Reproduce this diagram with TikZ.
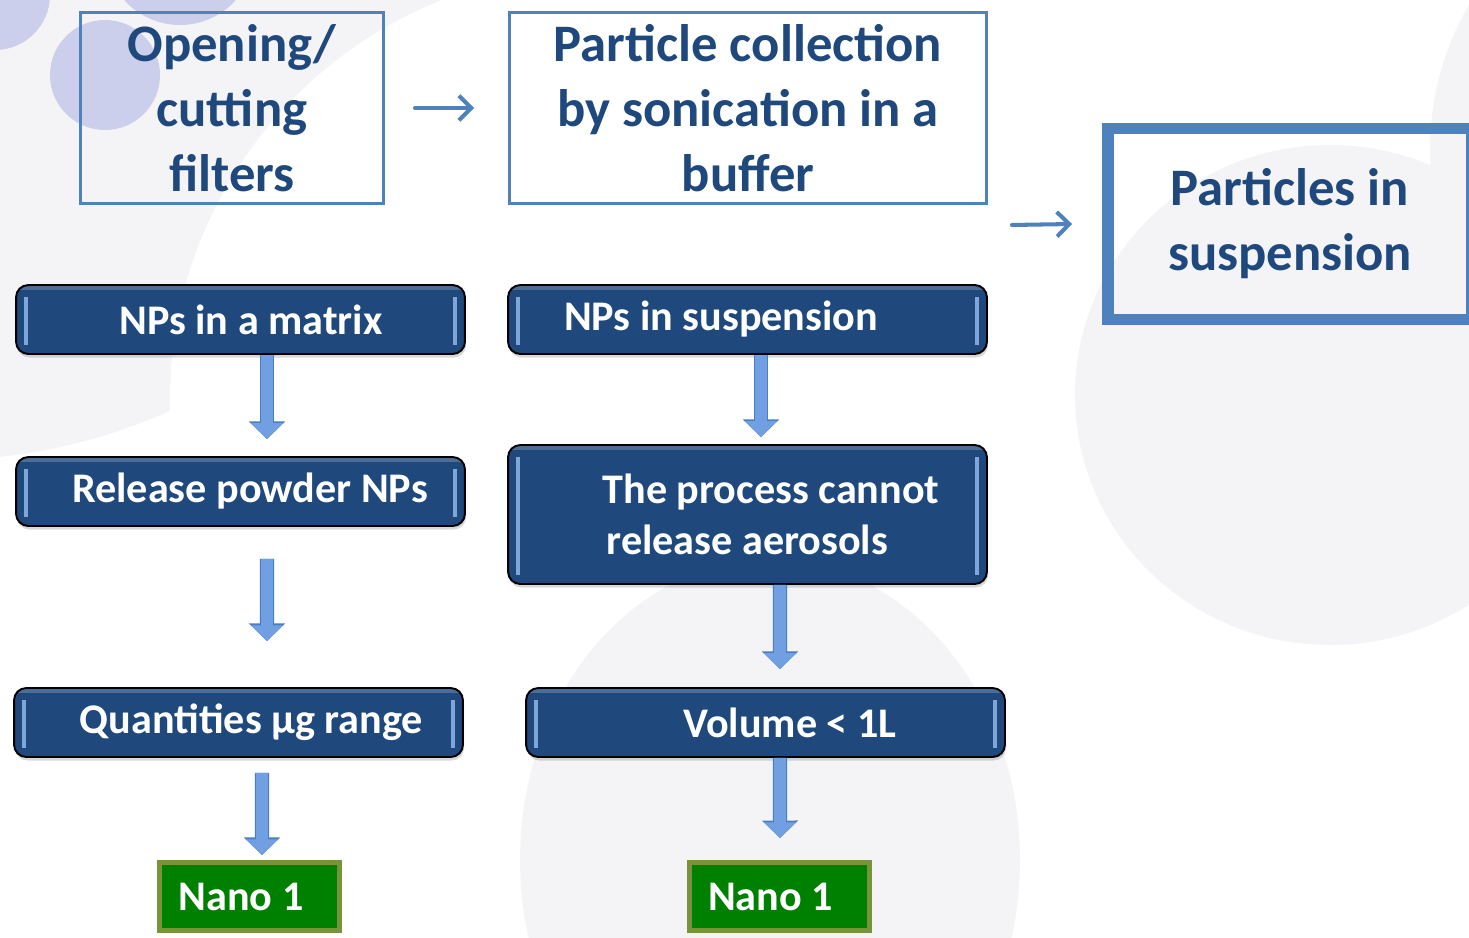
\documentclass[tikz,border=0pt]{standalone}
\usepackage{fontspec}
\setmainfont{Carlito}
\usepackage{tikz}
\usetikzlibrary{arrows.meta, positioning, shadows}
\usepackage{xcolor}

\definecolor{navy}{RGB}{31,73,125}
\definecolor{edgeblue}{RGB}{79,129,189}
\definecolor{bggrey}{RGB}{244,244,247}
\definecolor{lavender}{RGB}{204,207,236}
\definecolor{arrowblue}{RGB}{112,160,226}
\definecolor{arrowedge}{RGB}{74,126,196}
\definecolor{nanogreen}{RGB}{0,128,0}
\definecolor{nanoedge}{RGB}{119,147,60}
\definecolor{hilite}{RGB}{150,190,240}

\begin{document}
\begin{tikzpicture}[x=0.02cm, y=-0.02cm,
    whitebox/.style={draw=edgeblue, line width=1.7pt, text=navy, align=center, inner sep=0pt,
      font=\fontsize{30}{37}\selectfont\bfseries},
    darkbox/.style={draw=black, line width=1.1pt, rounded corners=7pt, text=white, fill=navy,
      font=\fontsize{24}{29}\selectfont\bfseries,
      drop shadow={shadow xshift=0.6pt, shadow yshift=-2pt, opacity=0.3},
      path picture={
        \fill[navy!80!white, sharp corners] (path picture bounding box.north west)
          rectangle ([yshift=-3pt]path picture bounding box.north east);
        \fill[hilite, opacity=0.8, sharp corners] ([xshift=4.5pt, yshift=-7pt]path picture bounding box.north west)
          rectangle ([xshift=7pt, yshift=5pt]path picture bounding box.south west);
        \fill[hilite, opacity=0.8, sharp corners] ([xshift=-4.5pt, yshift=-7pt]path picture bounding box.north east)
          rectangle ([xshift=-7pt, yshift=5pt]path picture bounding box.south east);
      }},
    nanobox/.style={draw=nanoedge, line width=2.8pt, fill=nanogreen, text=white,
      minimum width=3.6cm, minimum height=1.36cm,
      font=\fontsize{24}{28}\selectfont\bfseries},
    blockarrow/.style={draw=arrowblue, line width=6.8pt, -{Triangle[width=18pt, length=9pt]},
      preaction={draw=arrowedge, line width=8pt, -{Triangle[width=20pt, length=10pt]}}},
    thinarrow/.style={draw=edgeblue, line width=2.3pt, line cap=round,
      -{Straight Barb[length=7pt, width=14pt]}}]

  \useasboundingbox (0,0) rectangle (1469,937);

  % background
  \begin{scope}
    \clip (0,0) rectangle (1469,937);
    \fill[white] (0,0) rectangle (1469,937);
    \fill[bggrey] (-60,-100) circle[radius=560];
    \fill[white] (600,400) circle[radius=430];
    \fill[bggrey] (770,860) ellipse[x radius=250, y radius=300];
    \fill[bggrey] (1330,395) ellipse[x radius=255, y radius=250];
    \fill[bggrey] (1720,150) circle[radius=290];
    \fill[lavender] (-5,-5) circle[radius=55];
    \fill[lavender] (105,75) circle[radius=55];
    \fill[lavender] (180,-50) circle[radius=75];
  \end{scope}

  % top row
  \node[whitebox, minimum width=6.06cm, minimum height=3.82cm] (opening) at (232,108) {Opening/\\cutting\\filters};
  \node[whitebox, minimum width=9.54cm, minimum height=3.82cm] (collection) at (748,108) {Particle collection\\by sonication in a\\buffer};
  \node[whitebox, line width=6.8pt, minimum width=7.28cm, minimum height=3.82cm] (particles) at (1290,224) {Particles in\\suspension};

  \draw[thinarrow] ([xshift=0.6cm]opening.east) -- ([xshift=-0.68cm]collection.west);
  \draw[thinarrow] ([xshift=0.48cm, yshift=-0.4cm]collection.south east) -- ([xshift=-0.6cm]particles.west);

  % left column
  \node[darkbox, minimum width=8.98cm, minimum height=1.38cm] (matrix) at (240.5,319.5) {\hspace*{0.42cm}NPs in a matrix};
  \node[darkbox, minimum width=8.98cm, minimum height=1.38cm] (release) at (240.5,491.5) {\hspace*{0.38cm}Release powder NPs};
  \node[darkbox, minimum width=8.98cm, minimum height=1.38cm] (quantities) at (238.5,722.5) {\hspace*{0.52cm}Quantities µg range};
  \node[nanobox] (nanoL) at (249.5,896.5) {Nano 1\hspace*{0.34cm}};

  % right column
  \node[darkbox, minimum width=9.58cm, minimum height=1.38cm] (suspension) at (747.5,319.5) {NPs in suspension\hspace*{1.06cm}};
  \node[darkbox, minimum width=9.58cm, minimum height=2.78cm, align=left] (process) at (747.5,514.5) {\hspace*{0.94cm}The process cannot\\\hspace*{1.02cm}release aerosols};
  \node[darkbox, minimum width=9.58cm, minimum height=1.38cm] (volume) at (765.5,722.5) {\hspace*{0.98cm}Volume < 1L};
  \node[nanobox] (nanoR) at (779.5,896.5) {Nano 1\hspace*{0.36cm}};

  \draw[blockarrow] ([xshift=0.53cm]matrix.south) -- ([xshift=0.53cm, yshift=0.34cm]release.north);
  \draw[blockarrow] ([xshift=0.53cm, yshift=-0.64cm]release.south) -- ([xshift=0.57cm, yshift=0.92cm]quantities.north);
  \draw[blockarrow] ([xshift=0.47cm, yshift=-0.3cm]quantities.south) -- ([xshift=0.25cm, yshift=0.1cm]nanoL.north);
  \draw[blockarrow] ([xshift=0.27cm]suspension.south) -- ([xshift=0.27cm, yshift=0.14cm]process.north);
  \draw[blockarrow] ([xshift=0.65cm]process.south) -- ([xshift=0.29cm, yshift=0.36cm]volume.north);
  \draw[blockarrow] ([xshift=0.29cm]volume.south) -- ([xshift=0.01cm, yshift=0.44cm]nanoR.north);
\end{tikzpicture}
\end{document}
